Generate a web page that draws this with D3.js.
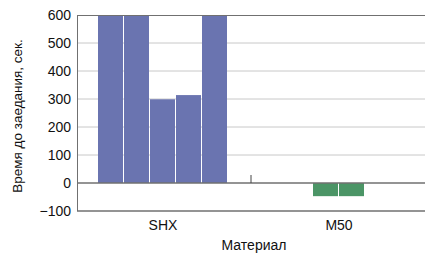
<!DOCTYPE html>
<html>
<head>
<meta charset="utf-8">
<script src="https://cdn.jsdelivr.net/npm/d3@7"></script>
<style>
  body { margin: 0; background: #fff; }
  text { font-family: "Liberation Sans", Arial, sans-serif; fill: #111; }
</style>
</head>
<body>
<div id="chart"></div>
<script>
const categories = ['SHX', 'M50'];
const shxValues = [600, 600, 299, 314, 600];
const m50Values = [-47, -47];
const yTicks = [-100, 0, 100, 200, 300, 400, 500, 600];
const colors = { SHX: '#6a74b0', M50: '#4b9566' };
const seriesByCat = { SHX: shxValues, M50: m50Values };

const margin = { top: 15, right: 0, bottom: 42, left: 77 };
const W = 425, H = 253;
const width = W - margin.left - margin.right;
const height = H - margin.top - margin.bottom;

const svg = d3.select('#chart').append('svg')
    .attr('width', W).attr('height', H);
const g = svg.append('g')
    .attr('transform', 'translate(' + margin.left + ',' + margin.top + ')');

const x = d3.scaleBand().domain(categories).range([-2, width + 2]);
const y = d3.scaleLinear().domain([-100, 600]).range([height, 0]);
const barW = 26;

// gridlines
g.selectAll('.grid').data(yTicks.filter(t => t > 0 && t < 600)).enter()
    .append('line')
    .attr('x1', 0).attr('x2', width)
    .attr('y1', d => y(d)).attr('y2', d => y(d))
    .attr('stroke', '#c8c8c8').attr('stroke-width', 1);

// bars
categories.forEach(cat => {
    const vals = seriesByCat[cat];
    const cx = x(cat) + x.bandwidth() / 2;
    const start = cx - vals.length * barW / 2;
    g.selectAll('.bar-' + cat).data(vals).enter()
        .append('rect')
        .attr('x', (d, i) => start + i * barW)
        .attr('width', barW - 1)
        .attr('y', d => y(Math.max(0, d)))
        .attr('height', d => Math.abs(y(d) - y(0)))
        .attr('fill', colors[cat]);
});

// frame lines
const dark = '#707070';
g.append('line').attr('x1', 0).attr('x2', width).attr('y1', 0.5).attr('y2', 0.5)
    .attr('stroke', dark);
g.append('line').attr('x1', 0).attr('x2', width).attr('y1', y(0)).attr('y2', y(0))
    .attr('stroke', dark).attr('stroke-width', 1.5);
g.append('line').attr('x1', 0).attr('x2', width).attr('y1', height).attr('y2', height)
    .attr('stroke', dark).attr('stroke-width', 1.5);
g.append('line').attr('x1', 0.5).attr('x2', 0.5).attr('y1', 0).attr('y2', height)
    .attr('stroke', dark);

// category separator tick
g.append('line')
    .attr('x1', x('M50')).attr('x2', x('M50'))
    .attr('y1', y(0) - 8).attr('y2', y(0))
    .attr('stroke', '#444');

// y tick labels
g.selectAll('.ytick').data(yTicks).enter()
    .append('text')
    .attr('x', -6).attr('y', d => y(d))
    .attr('dy', '0.36em')
    .attr('text-anchor', 'end')
    .style('font-size', '14px')
    .text(d => d < 0 ? '\u2212' + Math.abs(d) : d);

// x labels
g.selectAll('.xlab').data(categories).enter()
    .append('text')
    .attr('x', d => x(d) + x.bandwidth() / 2)
    .attr('y', height + 19)
    .attr('text-anchor', 'middle')
    .style('font-size', '14px')
    .text(d => d);

// axis titles
svg.append('text')
    .attr('transform', 'translate(22,' + 116 + ') rotate(-90)')
    .attr('text-anchor', 'middle')
    .style('font-size', '13.5px')
    .text('Время до заедания, сек.');
svg.append('text')
    .attr('x', 254).attr('y', 250)
    .attr('text-anchor', 'middle')
    .style('font-size', '14px')
    .text('Материал');
</script>
</body>
</html>
